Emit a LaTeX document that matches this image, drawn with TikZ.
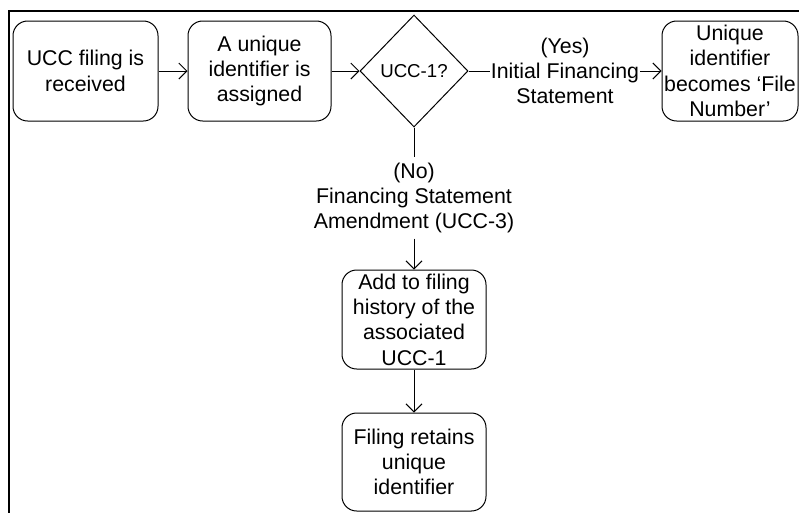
\documentclass[tikz,border=0pt]{standalone}
\usepackage{fontspec}
\setmainfont{Liberation Sans}
\usetikzlibrary{shapes.geometric,arrows.meta}
\begin{document}
\begin{tikzpicture}[x=0.75pt,y=-0.75pt,
  every node/.style={font=\fontsize{16}{19}\selectfont, align=center},
  procbox/.style={draw, line width=0.75pt, rounded corners=11pt, inner sep=0pt},
  decision/.style={draw, diamond, line width=0.75pt, inner sep=0pt,
    minimum width=81pt, minimum height=84pt, font=\fontsize{14}{17}\selectfont},
  flowlabel/.style={inner xsep=0.75pt, inner ysep=3.75pt},
  link/.style={line width=0.75pt},
  flow/.style={link, -{Straight Barb[length=6pt,width=12pt]}}]
  \useasboundingbox (0,0) rectangle (799,512);
  \clip (0,0) rectangle (799,512);
  % outer frame (only its left and top edges fall inside the page)
  \draw[line width=1.5pt] (9,530) -- (9,11) -- (820,11);

  % process steps
  \node[procbox, minimum width=108.75pt, minimum height=75pt] (recv) at (85.5,71)
    {UCC filing is\\received};
  \node[procbox, minimum width=107.25pt, minimum height=75pt] (assign) at (259.5,71)
    {A unique\\identifier is\\assigned};
  \node[decision] (check) at (414,71) {UCC-1?};
  \node[flowlabel] (yes) at (565,71) {(Yes)\\Initial Financing\\Statement};
  \node[procbox, minimum width=102pt, minimum height=75pt] (filenum) at (730,71)
    {Unique\\identifier\\becomes ‘File\\Number’};
  \node[flowlabel] (no) at (414,198) {(No)\\Financing Statement\\Amendment (UCC-3)};
  \node[procbox, minimum width=108pt, minimum height=74.25pt] (history) at (414,319.5)
    {Add to filing\\history of the\\associated\\UCC-1};
  \node[procbox, minimum width=108pt, minimum height=73.5pt] (retain) at (414,462)
    {Filing retains\\unique\\identifier};

  % connectors
  \draw[flow] (recv) -- (assign);
  \draw[flow] (assign) -- (check);
  \draw[link] (check.east) -- (yes.west);
  \draw[flow] (yes.east) -- (filenum.west);
  \draw[link] (check.south) -- (no.north);
  \draw[flow] (no.south) -- (history.north);
  \draw[flow] (history) -- (retain);
\end{tikzpicture}
\end{document}
